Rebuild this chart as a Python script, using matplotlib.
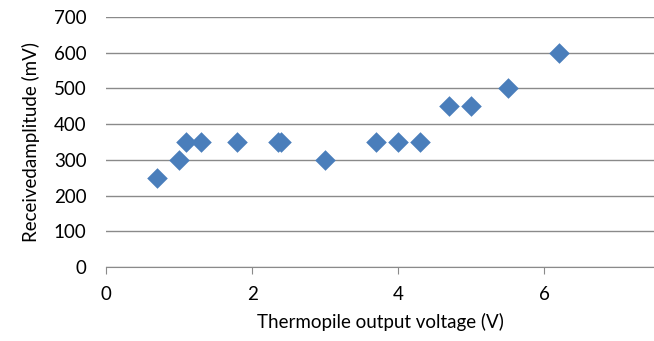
import matplotlib
matplotlib.use("Agg")
import matplotlib.pyplot as plt

plt.rcParams['font.family'] = ['Lato', 'DejaVu Sans']

voltage = [0.7, 1.0, 1.1, 1.3, 1.8, 2.35, 2.4, 3.0, 3.7, 4.0, 4.3, 4.7, 5.0, 5.5, 6.2]
amplitude = [250, 300, 350, 350, 350, 350, 350, 300, 350, 350, 350, 450, 450, 500, 600]

fig = plt.figure(figsize=(6.54, 3.41), dpi=100)
ax = fig.add_axes([0.162, 0.217, 0.838, 0.733])

ax.scatter(voltage, amplitude, marker='D', s=110, color='#4A7EBB', zorder=3, linewidths=0)

ax.set_xlim(0, 7.5)
ax.set_ylim(0, 700)
ax.set_xticks([0, 2, 4, 6])
ax.set_yticks(range(0, 701, 100))
ax.yaxis.grid(True, color='#8a8a8a', linewidth=1)
for s in ['top', 'right', 'left']:
    ax.spines[s].set_visible(False)
ax.spines['bottom'].set_color('#8a8a8a')
ax.tick_params(axis='x', length=5, color='#8a8a8a', labelsize=13.5, pad=9)
ax.tick_params(axis='y', length=0, labelsize=13.5, pad=14)

ax.set_xlabel('Thermopile output voltage (V)', fontsize=13.5, labelpad=7)
ax.set_ylabel('Receivedamplitude (mV)', fontsize=13.5, labelpad=10)

fig.savefig('out.png', dpi=100)
